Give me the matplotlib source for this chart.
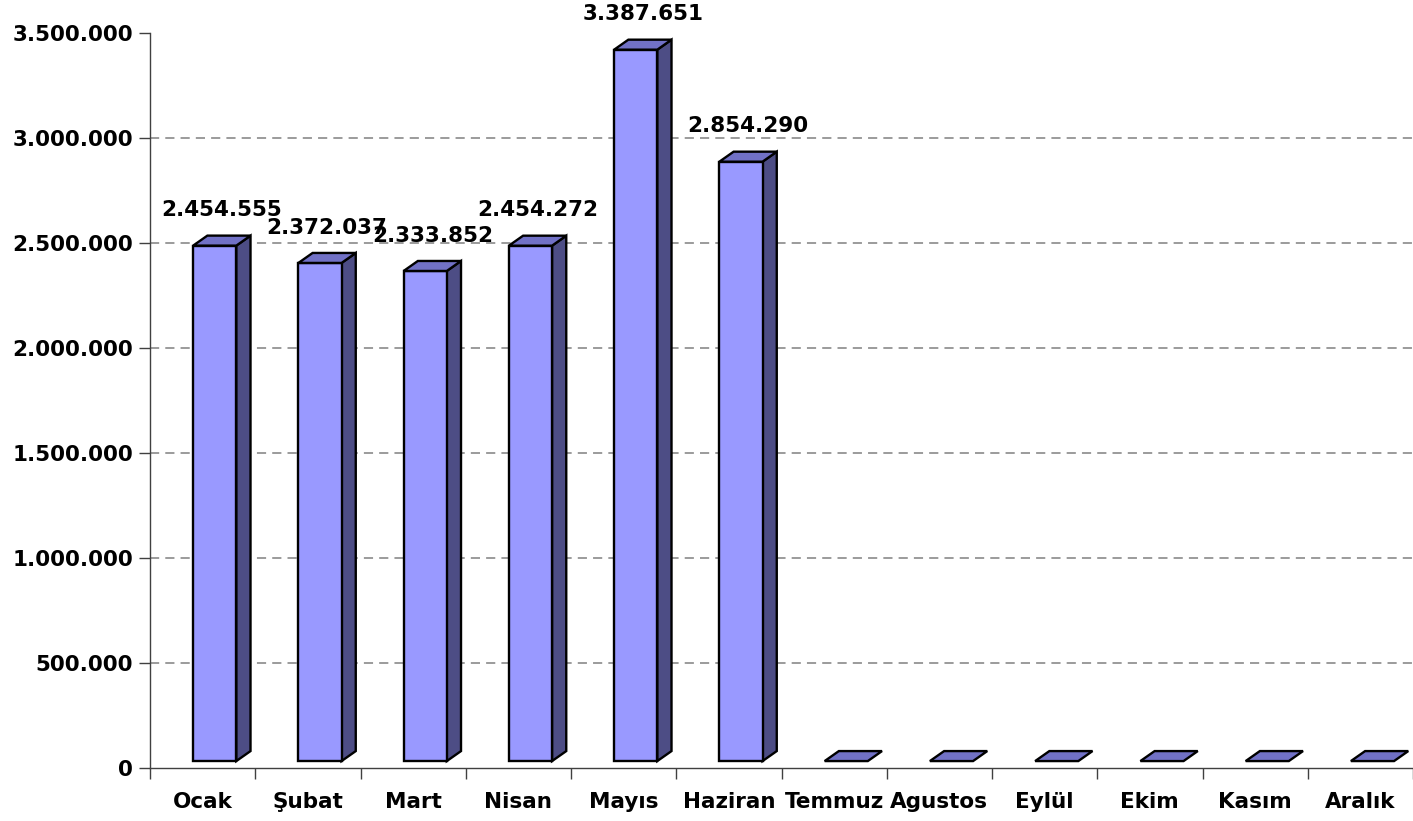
"""
Gráfico de colunas 3D (estilo Excel) com os valores mensais.
Salva a figura em out.png.
"""

import matplotlib.pyplot as plt
from matplotlib.patches import Polygon
from matplotlib.ticker import FuncFormatter, FixedLocator

aylar = ["Ocak", "Şubat", "Mart", "Nisan", "Mayıs", "Haziran",
         "Temmuz", "Agustos", "Eylül", "Ekim", "Kasım", "Aralık"]
degerler = [2454555, 2372037, 2333852, 2454272, 3387651, 2854290,
            0, 0, 0, 0, 0, 0]
y_ticks = [0, 500000, 1000000, 1500000, 2000000, 2500000, 3000000, 3500000]

ON_RENK = "#9999FF"
YAN_RENK = "#4D4D85"
UST_RENK = "#7171C6"


def binlik(v, pos=None) -> str:
    return f"{int(v):,}".replace(",", ".")


def main() -> int:
    fig = plt.figure(figsize=(14.13, 8.21), dpi=100)
    ax = fig.add_axes([150 / 1413, 53 / 821, 1263 / 1413, 735 / 821])
    ax.set_xlim(0, 12)
    ax.set_ylim(0, 3500000)

    # geometria 3D aproximada (em unidades de dados)
    x0, x1 = 0.41, 0.82
    dx = 0.135
    dy = 47600
    base = 33000

    for i, v in enumerate(degerler):
        l, r = i + x0, i + x1
        b, t = base, base + v
        ust = [(l, t), (r, t), (r + dx, t + dy), (l + dx, t + dy)]
        if v > 0:
            yan = [(r, b), (r + dx, b + dy), (r + dx, t + dy), (r, t)]
            on = [(l, b), (r, b), (r, t), (l, t)]
            ax.add_patch(Polygon(yan, closed=True, facecolor=YAN_RENK,
                                 edgecolor="black", lw=1.7, zorder=3,
                                 joinstyle="miter"))
            ax.add_patch(Polygon(on, closed=True, facecolor=ON_RENK,
                                 edgecolor="black", lw=1.7, zorder=3,
                                 joinstyle="miter"))
            ax.annotate(binlik(v), xy=(i + (x0 + x1 + dx) / 2, t + dy),
                        xytext=(0, 11), textcoords="offset points",
                        ha="center", va="bottom", fontsize=15.5,
                        fontweight="bold", zorder=5)
        ax.add_patch(Polygon(ust, closed=True, facecolor=UST_RENK,
                             edgecolor="black", lw=1.7, zorder=4,
                             joinstyle="miter"))

    # grades tracejadas (sem linha no topo)
    for yt in y_ticks[1:-1]:
        ax.axhline(yt, color="#808080", lw=1.1, ls=(0, (6, 4)), zorder=1)

    ax.yaxis.set_major_locator(FixedLocator(y_ticks))
    ax.yaxis.set_major_formatter(FuncFormatter(binlik))
    ax.xaxis.set_major_locator(FixedLocator(range(13)))
    ax.xaxis.set_major_formatter(FuncFormatter(lambda v, p: ""))
    ax.xaxis.set_minor_locator(FixedLocator([i + 0.5 for i in range(12)]))
    ax.set_xticklabels(aylar, minor=True)

    ax.tick_params(axis="x", which="major", direction="out", length=8,
                   width=1, color="#404040")
    ax.tick_params(axis="x", which="minor", length=0, pad=17)
    ax.tick_params(axis="y", direction="out", length=8, width=1,
                   color="#404040", pad=4)
    for lab in ax.get_xticklabels(minor=True) + ax.get_yticklabels():
        lab.set_fontsize(15.5)
        lab.set_fontweight("bold")

    for s in ("top", "right"):
        ax.spines[s].set_visible(False)
    for s in ("left", "bottom"):
        ax.spines[s].set_color("#404040")
        ax.spines[s].set_linewidth(1)

    fig.savefig("out.png", dpi=100)
    plt.close(fig)
    return 0


if __name__ == "__main__":
    raise SystemExit(main())
